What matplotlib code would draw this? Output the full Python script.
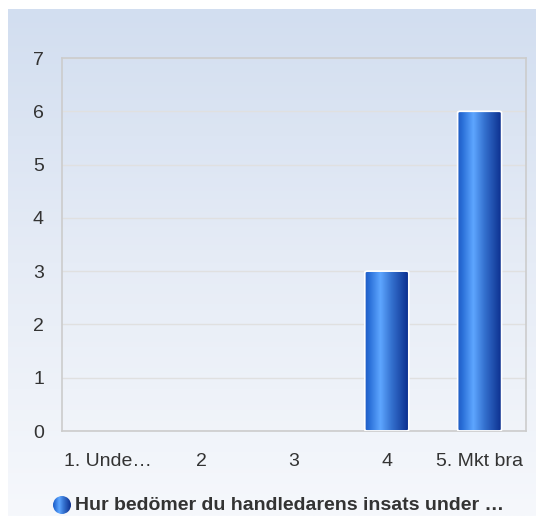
import numpy as np
import matplotlib
matplotlib.use("Agg")
import matplotlib.pyplot as plt
from matplotlib.colors import LinearSegmentedColormap
from matplotlib.patches import Circle, FancyBboxPatch

categories = ["1. Unde\u2026", "2", "3", "4", "5. Mkt bra"]
values = [0, 0, 0, 3, 6]
yticks = [0, 1, 2, 3, 4, 5, 6, 7]
series_name = "Hur bed\u00f6mer du handledarens insats under \u2026"

plt.rcParams['font.family'] = ['Liberation Sans', 'DejaVu Sans']
W, H = 536, 516
fig = plt.figure(figsize=(W/100, H/100), dpi=100)
fig.patch.set_facecolor('white')

# background gradient
bg = fig.add_axes([8/W, 0, 1-8/W, (H-9)/H])
bg.set_axis_off()
bgcmap = LinearSegmentedColormap.from_list('bg', ['#d2def0', '#e6ecf6', '#f6f8fc'])
grad = np.linspace(0, 1, 256).reshape(-1, 1)
bg.imshow(grad, aspect='auto', cmap=bgcmap, extent=[0, 1, 0, 1], origin='upper')
bg.set_xlim(0, 1); bg.set_ylim(0, 1)

# main axes
L, R, T, B = 62, 526, 58, 431
ax = fig.add_axes([L/W, (H-B)/H, (R-L)/W, (B-T)/H])
ax.set_facecolor('none')
ax.set_xlim(-0.5, len(categories)-0.5)
ax.set_ylim(0, 7)
ax.set_yticks(yticks)
ax.set_yticklabels([str(t) for t in yticks])
ax.set_xticks(range(len(categories)))
ax.set_xticklabels(categories)
ax.tick_params(axis='both', length=0, labelsize=14, colors='#333333')
ax.tick_params(axis='y', pad=13)
ax.tick_params(axis='x', pad=16)
for s in ax.spines.values():
    s.set_color('#cccccc')
    s.set_linewidth(1.2)
ax.grid(axis='y', color='#e0e0e0', linewidth=1)
ax.set_axisbelow(True)

barcmap = LinearSegmentedColormap.from_list('bar', [
    (0.0, '#1f5cc4'), (0.1, '#2a6fd8'), (0.35, '#5ea6ff'), (0.6, '#3572d0'), (1.0, '#0b2d8c')])
hgrad = np.linspace(0, 1, 256).reshape(1, -1)
bw = 0.474
for i, v in enumerate(values):
    if v <= 0:
        continue
    x0 = i - bw/2
    patch = FancyBboxPatch((x0, 0), bw, v, boxstyle='round,pad=0,rounding_size=0.03',
                           mutation_aspect=7/5*0.6, facecolor='none', edgecolor='white', linewidth=1.2, zorder=3)
    ax.add_patch(patch)
    im = ax.imshow(hgrad, aspect='auto', cmap=barcmap, extent=[x0, x0+bw, 0, v], zorder=2.5)
    im.set_clip_path(patch)
ax.set_xlim(-0.5, len(categories)-0.5)
ax.set_ylim(0, 7)

# legend
lx, ly, r = 62, 505, 9
leg = fig.add_axes([(lx-r)/W, (H-ly-r)/H, 2*r/W, 2*r/H])
leg.set_axis_off()
leg.set_xlim(0, 1); leg.set_ylim(0, 1)
circ = Circle((0.5, 0.5), 0.5, transform=leg.transData, facecolor='none', edgecolor='none')
leg.add_patch(circ)
im2 = leg.imshow(hgrad, aspect='auto', cmap=barcmap, extent=[0, 1, 0, 1])
im2.set_clip_path(circ)
fig.text(75/W, (H-ly)/H, series_name, fontsize=14, fontweight='bold', color='#333333',
         va='center', ha='left')

fig.savefig('out.png', dpi=100)
